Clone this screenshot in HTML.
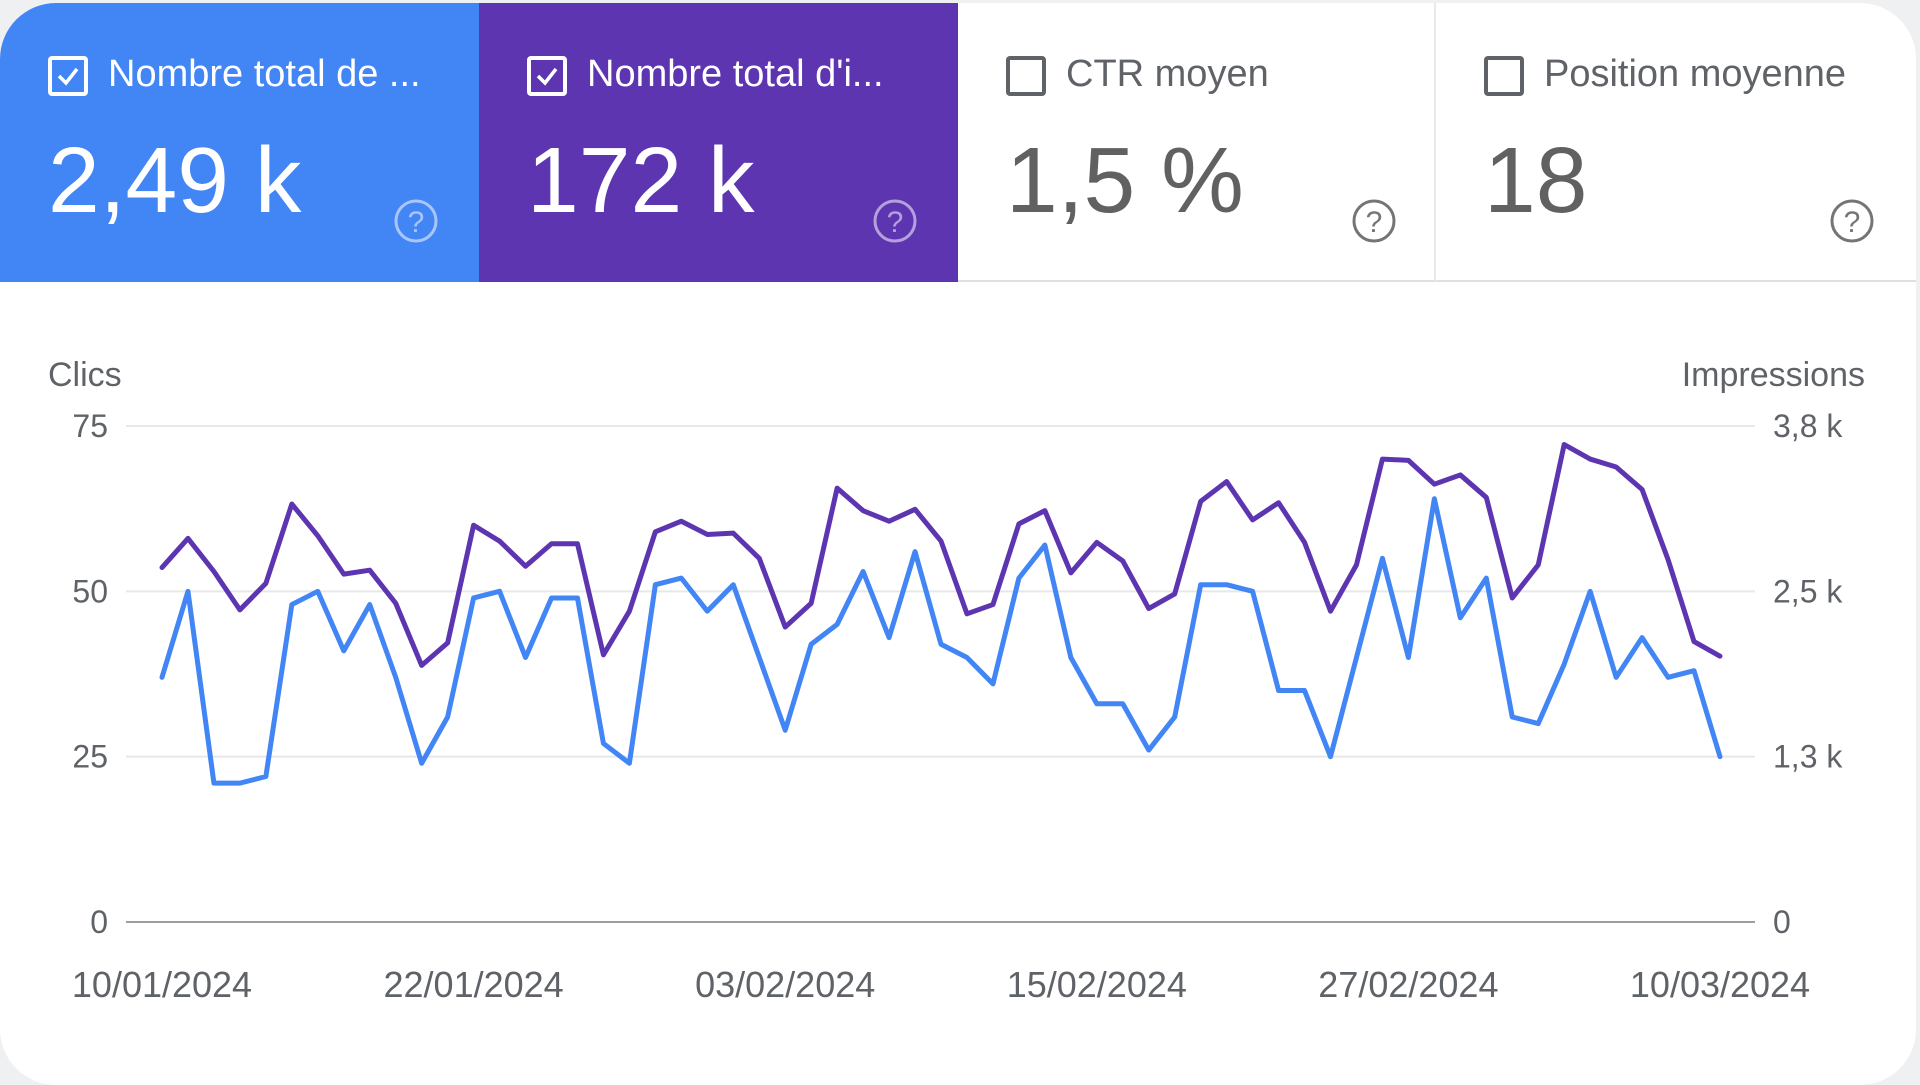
<!DOCTYPE html>
<html><head><meta charset="utf-8">
<style>
html,body{margin:0;padding:0;width:1920px;height:1080px;overflow:hidden;background:#eef0f2;font-family:"Liberation Sans",Roboto,sans-serif;}
#panel{position:absolute;left:0;top:3px;width:1916px;height:1082px;background:#fff;border-radius:56px;overflow:hidden;}
.card{position:absolute;top:0;height:279px;box-sizing:border-box;}
.cb{position:absolute;left:48px;top:53px;width:40px;height:40px;border:4px solid #fff;border-radius:4px;box-sizing:border-box;}
.cb svg{position:absolute;left:2px;top:2px}
.cb.off{border-color:#5f6368;}
.title{position:absolute;left:108px;top:50px;font-size:38px;color:#fff;white-space:nowrap;}
.val{position:absolute;left:48px;top:124px;font-size:93px;color:#fff;}
.help{position:absolute;left:394px;top:196px;width:44px;height:44px;}
.grey .title{color:#5f6368}.grey .val{color:#616161}
</style></head><body>
<div id="panel">
<div class="card" style="left:0;width:479px;background:#4285f4">
 <div class="cb"><svg width="28" height="28" viewBox="0 0 28 28"><path d="M5 14 L12 21 L23 7" stroke="#fff" stroke-width="3.5" fill="none"/></svg></div>
 <div class="title">Nombre total de ...</div>
 <div class="val">2,49 k</div>
 <svg class="help" viewBox="0 0 44 44"><circle cx="22" cy="22" r="20" stroke="#a9c6fa" stroke-width="3" fill="none"/><text x="22" y="33" text-anchor="middle" font-size="30" fill="#a9c6fa" font-family="Liberation Sans">?</text></svg>
</div>
<div class="card" style="left:479px;width:479px;background:#5e35b1">
 <div class="cb"><svg width="28" height="28" viewBox="0 0 28 28"><path d="M5 14 L12 21 L23 7" stroke="#fff" stroke-width="3.5" fill="none"/></svg></div>
 <div class="title">Nombre total d'i...</div>
 <div class="val">172 k</div>
 <svg class="help" viewBox="0 0 44 44"><circle cx="22" cy="22" r="20" stroke="#b3a0dc" stroke-width="3" fill="none"/><text x="22" y="33" text-anchor="middle" font-size="30" fill="#b3a0dc" font-family="Liberation Sans">?</text></svg>
</div>
<div class="card grey" style="left:958px;width:478px;border-right:2px solid #e8eaed;border-bottom:2px solid #e0e0e0">
 <div class="cb off"></div>
 <div class="title">CTR moyen</div>
 <div class="val">1,5 %</div>
 <svg class="help" viewBox="0 0 44 44"><circle cx="22" cy="22" r="20" stroke="#757575" stroke-width="3" fill="none"/><text x="22" y="33" text-anchor="middle" font-size="30" fill="#757575" font-family="Liberation Sans">?</text></svg>
</div>
<div class="card grey" style="left:1436px;width:480px;border-bottom:2px solid #e0e0e0">
 <div class="cb off"></div>
 <div class="title">Position moyenne</div>
 <div class="val">18</div>
 <svg class="help" viewBox="0 0 44 44"><circle cx="22" cy="22" r="20" stroke="#757575" stroke-width="3" fill="none"/><text x="22" y="33" text-anchor="middle" font-size="30" fill="#757575" font-family="Liberation Sans">?</text></svg>
</div>
</div>
<svg id="chart" width="1920" height="1080" style="position:absolute;left:0;top:0"></svg>
<script>
const dates=["10/01/2024","22/01/2024","03/02/2024","15/02/2024","27/02/2024","10/03/2024"];
const dateIdx=[0,12,24,36,48,60];
const leftTicks=[0,25,50,75];
const rightTickLabels=["0","1,3 k","2,5 k","3,8 k"];
const clicks=[37,50,21,21,22,48,50,41,48,37,24,31,49,50,40,49,49,27,24,51,52,47,51,40,29,42,45,53,43,56,42,40,36,52,57,40,33,33,26,31,51,51,50,35,35,25,40,55,40,64,46,52,31,30,39,50,37,43,37,38,25];
const impressions=[2680,2900,2650,2360,2560,3160,2920,2630,2660,2410,1940,2110,3000,2880,2690,2860,2860,2020,2350,2950,3030,2930,2940,2750,2230,2410,3280,3110,3030,3120,2880,2330,2400,3010,3110,2640,2870,2730,2370,2480,3180,3330,3040,3170,2870,2350,2700,3500,3490,3310,3380,3210,2450,2700,3610,3500,3440,3270,2740,2120,2010];
const NS="http://www.w3.org/2000/svg";
const svg=document.getElementById('chart');
const x0=162,x1=1720,yTop=426,yBot=922;
const xs=i=>x0+(x1-x0)*i/60;
const yL=v=>yBot-(yBot-yTop)*v/75;
const yR=v=>yBot-(yBot-yTop)*v/3750;
function mk(tag,attrs,txt){const e=document.createElementNS(NS,tag);for(const k in attrs)e.setAttribute(k,attrs[k]);if(txt!==undefined)e.textContent=txt;svg.appendChild(e);return e;}
const F='"Liberation Sans",sans-serif';
leftTicks.forEach((t,i)=>{
 const y=yL(t);
 const g=mk('line',{x1:126,x2:1755,y1:y,y2:y,stroke:t===0?'#9e9e9e':'#e8e8e8','stroke-width':2});
 
 
 const a=mk('text',{x:108,y:y+11,'text-anchor':'end','font-size':32,fill:'#5f6368','font-family':F},String(t));
 
 
 const b=mk('text',{x:1773,y:y+11,'font-size':32,fill:'#5f6368','font-family':F},rightTickLabels[i]);
 
 
});
const lt=mk('text',{x:48,y:386,'font-size':34,fill:'#5f6368','font-family':F},'Clics');


const rt=mk('text',{x:1865,y:386,'text-anchor':'end','font-size':34,fill:'#5f6368','font-family':F},'Impressions');


dates.forEach((d,i)=>{
 const t=mk('text',{x:xs(dateIdx[i]),y:997,'text-anchor':'middle','font-size':36,fill:'#5f6368','font-family':F},d);
 
 
});
const pImp=impressions.map((v,i)=>xs(i)+','+yR(v)).join(' ');
const l1=mk('polyline',{points:pImp,fill:'none',stroke:'#5e35b1','stroke-width':5,'stroke-linejoin':'round','stroke-linecap':'round'});


const pCl=clicks.map((v,i)=>xs(i)+','+yL(v)).join(' ');
const l2=mk('polyline',{points:pCl,fill:'none',stroke:'#4285f4','stroke-width':5,'stroke-linejoin':'round','stroke-linecap':'round'});


</script>
</body></html>
